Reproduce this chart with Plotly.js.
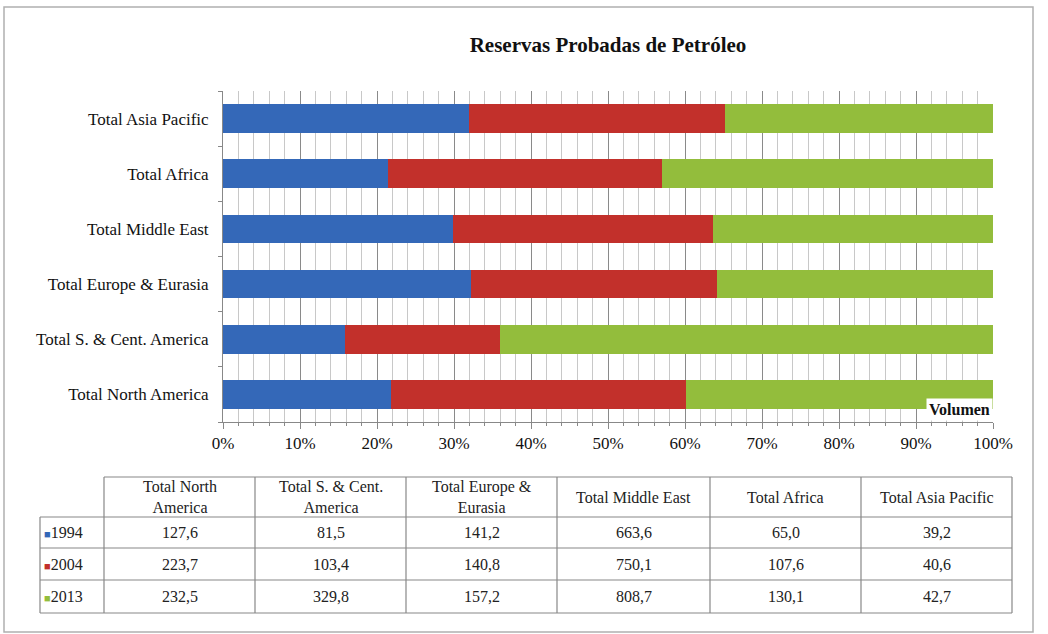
<!DOCTYPE html>
<html><head><meta charset="utf-8">
<script src="https://cdn.plot.ly/plotly-3.0.1.min.js"></script>
<style>body{margin:0;background:#fff}#c{width:1048px;height:634px}</style>
</head><body><div id="c"></div>
<script>
const categories = ["Total North America","Total S. & Cent. America","Total Europe & Eurasia","Total Middle East","Total Africa","Total Asia Pacific"];
const headerLabels = ["Total North<br>America","Total S. & Cent.<br>America","Total Europe &<br>Eurasia","Total Middle East","Total Africa","Total Asia Pacific"];
const years = ["1994","2004","2013"];
const v1994 = [127.6, 81.5, 141.2, 663.6, 65.0, 39.2];
const v2004 = [223.7, 103.4, 140.8, 750.1, 107.6, 40.6];
const v2013 = [232.5, 329.8, 157.2, 808.7, 130.1, 42.7];
const xTickLabels = ["0%","10%","20%","30%","40%","50%","60%","70%","80%","90%","100%"];

const colors = ["#3468b8","#c2302b","#93bd3c"];
const series = [v1994, v2004, v2013];
const serif = "Liberation Serif";

const W=1048,H=634, L=223, R=993, T=91, B=422;
const px = x => (x-L)/(R-L);
const py = y => (B-y)/(B-T);

const traces = series.map((s,i)=>({
  type:"bar", orientation:"h", y:categories, x:s, name:years[i],
  marker:{color:colors[i]}, hoverinfo:"x+y"
}));

const shapes = [];
const annotations = [];
const line = (x0,y0,x1,y1,c,w)=>shapes.push({type:"line",xref:"paper",yref:"paper",x0:px(x0),y0:py(y0),x1:px(x1),y1:py(y1),line:{color:c||"#888",width:w||1.2},layer:"above"});

// outer frame
shapes.push({type:"rect",xref:"paper",yref:"paper",x0:px(4),y0:py(7),x1:px(1033),y1:py(632),line:{color:"#b0b0b0",width:1.5},layer:"below"});

// table
const colX=[104,255,406,557,710,861,1012];
const rowY=[477,517,548,580,613];
line(104,477,1012,477);
for(let r=1;r<rowY.length;r++) line(40,rowY[r],1012,rowY[r]);
line(40,517,40,613);
colX.forEach(x=>line(x,477,x,613));

const fmt = v => v.toFixed(1).replace(".",",");
const tfont = {family:serif,size:16,color:"#222"};
headerLabels.forEach((h,i)=>{
  annotations.push({xref:"paper",yref:"paper",x:px((colX[i]+colX[i+1])/2),y:py((rowY[0]+rowY[1])/2),text:h,showarrow:false,font:tfont,xanchor:"center",yanchor:"middle"});
});
series.forEach((s,r)=>{
  annotations.push({xref:"paper",yref:"paper",x:px(42),y:py((rowY[r+1]+rowY[r+2])/2),
    text:'<span style="color:'+colors[r]+';font-size:11px">■</span>'+years[r],showarrow:false,font:tfont,xanchor:"left",yanchor:"middle"});
  s.forEach((v,i)=>{
    annotations.push({xref:"paper",yref:"paper",x:px((colX[i]+colX[i+1])/2),y:py((rowY[r+1]+rowY[r+2])/2),text:fmt(v),showarrow:false,font:tfont,xanchor:"center",yanchor:"middle"});
  });
});

// Volumen label
annotations.push({xref:"paper",yref:"paper",x:1,y:py(421),xanchor:"right",yanchor:"bottom",text:"<b>Volumen</b>",showarrow:false,
  font:{family:serif,size:16,color:"#111"},bgcolor:"#ffffff",borderpad:2});

const layout = {
  width:W,height:H,
  margin:{l:L,r:W-R,t:T,b:H-B},
  paper_bgcolor:"#fff",plot_bgcolor:"#fff",
  title:{text:"<b>Reservas Probadas de Petróleo</b>",x:0.5,xref:"paper",xanchor:"center",y:1-45/H,yanchor:"middle",
    font:{family:serif,size:21,color:"#111"}},
  barmode:"stack",barnorm:"percent",bargap:0.48,
  showlegend:false,
  xaxis:{range:[0,100],tickvals:[0,10,20,30,40,50,60,70,80,90,100],ticktext:xTickLabels,
    showgrid:true,gridcolor:"#8a8a8a",gridwidth:1,
    minor:{dtick:2,showgrid:true,gridcolor:"#c8c8c8",gridwidth:1,ticks:"outside",ticklen:3,tickcolor:"#888"},
    showline:true,linecolor:"#888",linewidth:1,ticks:"outside",ticklen:6,tickcolor:"#888",
    tickfont:{family:serif,size:17,color:"#111"},zeroline:false,fixedrange:true},
  yaxis:{type:"category",categoryarray:categories,range:[-0.5,5.5],
    showline:true,linecolor:"#888",linewidth:1,ticks:"outside",tickson:"boundaries",ticklen:4,tickcolor:"#888",
    ticklabelstandoff:10,
    showgrid:false,tickfont:{family:serif,size:17,color:"#111"},fixedrange:true},
  shapes:shapes,annotations:annotations
};
Plotly.newPlot("c",traces,layout,{displayModeBar:false,staticPlot:true});
</script></body></html>
